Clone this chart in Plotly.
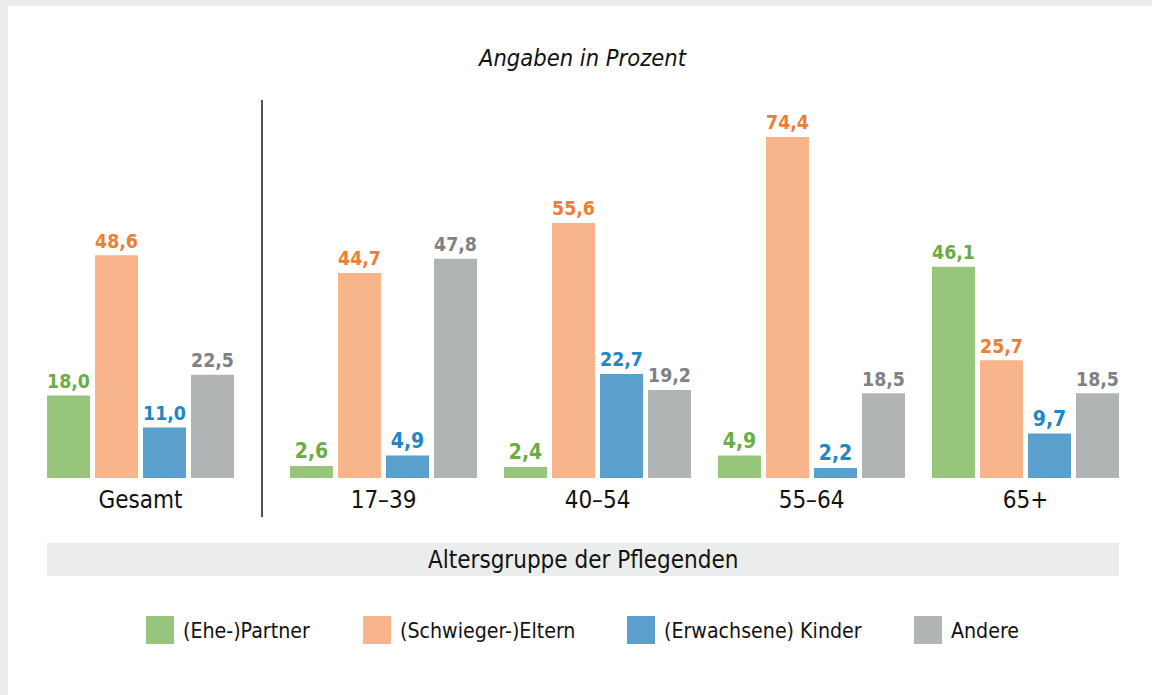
import plotly.graph_objects as go

# ---- data ----
categories = ["Gesamt", "17–39", "40–54", "55–64", "65+"]
series_names = ["(Ehe-)Partner", "(Schwieger-)Eltern", "(Erwachsene) Kinder", "Andere"]
partner = [18.0, 2.6, 2.4, 4.9, 46.1]
eltern = [48.6, 44.7, 55.6, 74.4, 25.7]
kinder = [11.0, 4.9, 22.7, 2.2, 9.7]
andere = [22.5, 47.8, 19.2, 18.5, 18.5]
title_text = "Angaben in Prozent"
axis_title = "Altersgruppe der Pflegenden"

# ---- style ----
bar_colors = ["#97c57b", "#f8b48a", "#5ba0cd", "#b1b4b5"]
label_colors = ["#6aad45", "#f07d32", "#2286c3", "#7f8284"]
FONT = "DejaVu Sans Condensed"
W, H = 1152, 695
M_T, M_B = 111, 217
PH = H - M_T - M_B
UNIT = 214.0          # px per group step
X0 = 140.5            # px position of first group
EXTRA = 29.0 / UNIT   # extra gap after "Gesamt"

positions = [0.0] + [1.0 + EXTRA + i for i in range(len(categories) - 1)]

def px(x):
    return x / W

def py(y):
    return (H - M_B - y) / PH

fig = go.Figure()
for name, vals, bc, lc in zip(series_names, [partner, eltern, kinder, andere], bar_colors, label_colors):
    fig.add_trace(go.Bar(
        x=positions, y=vals, name=name,
        marker=dict(color=bc, line=dict(width=0)),
        texttemplate="%{y:.1f}", textposition="outside",
        textfont=dict(family=FONT, size=21, color=lc, weight="bold"),
        cliponaxis=False, showlegend=False, hoverinfo="skip",
    ))

shapes = [
    # white panel over grey frame
    dict(type="rect", xref="paper", yref="paper", x0=px(8), x1=px(W + 5), y0=py(H + 5), y1=py(6),
         fillcolor="white", line=dict(width=0), layer="below"),
    # axis-title band
    dict(type="rect", xref="paper", yref="paper", x0=px(47), x1=px(1119), y0=py(576), y1=py(543),
         fillcolor="#ebedec", line=dict(width=0), layer="below"),
    # separator line
    dict(type="line", xref="x", yref="paper", x0=(positions[0] + positions[1]) / 2,
         x1=(positions[0] + positions[1]) / 2, y0=py(517), y1=py(100),
         line=dict(color="#1a1a1a", width=1.5)),
]

annotations = [
    dict(text=title_text, xref="paper", yref="paper", x=px(582), y=py(58), showarrow=False,
         font=dict(family=FONT, size=23.5, color="#111", style="italic"), xanchor="center", yanchor="middle"),
    dict(text=axis_title, xref="paper", yref="paper", x=px(583), y=py(560), showarrow=False,
         font=dict(family=FONT, size=24, color="#111"), xanchor="center", yanchor="middle"),
]

legend_x = [146, 363, 627, 914]
for lx, name, bc in zip(legend_x, series_names, bar_colors):
    shapes.append(dict(type="rect", xref="paper", yref="paper", x0=px(lx), x1=px(lx + 28),
                       y0=py(644), y1=py(616), fillcolor=bc, line=dict(width=0)))
    annotations.append(dict(text=name, xref="paper", yref="paper", x=px(lx + 35), y=py(630),
                            showarrow=False, xanchor="left", yanchor="middle",
                            font=dict(family=FONT, size=21.2, color="#111")))

fig.update_layout(
    width=W, height=H,
    margin=dict(l=0, r=0, t=M_T, b=M_B, pad=0),
    paper_bgcolor="#ebedec", plot_bgcolor="rgba(0,0,0,0)",
    barmode="group", bargap=1 - 192 / UNIT, bargroupgap=5 / 48,
    separators=",.",
    xaxis=dict(range=[-X0 / UNIT, (W - X0) / UNIT], tickvals=positions, ticktext=categories,
               showgrid=False, zeroline=False, showline=False, ticks="",
               ticklabelstandoff=5, fixedrange=True,
               tickfont=dict(family=FONT, size=24, color="#111")),
    yaxis=dict(range=[0, PH / 4.585], visible=False, showgrid=False, zeroline=False, fixedrange=True),
    shapes=shapes, annotations=annotations,
    showlegend=False, hovermode=False,
)

fig.write_html("out.html", config={"displayModeBar": False},
               post_script="document.body.style.margin='0';document.body.style.overflow='hidden';")
